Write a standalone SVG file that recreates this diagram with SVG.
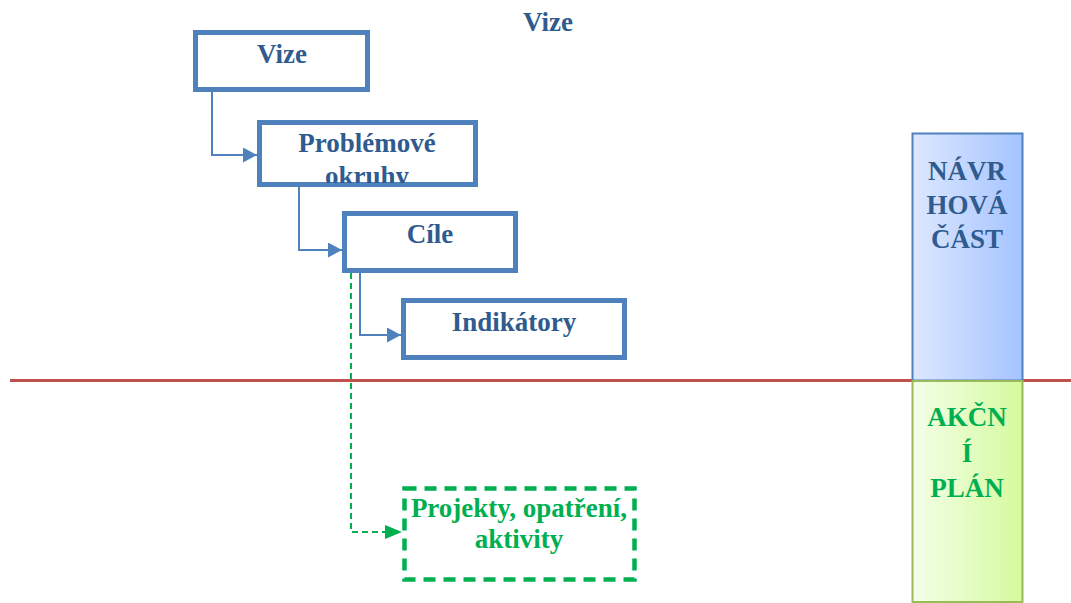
<svg xmlns="http://www.w3.org/2000/svg" width="1071" height="603" viewBox="0 0 1071 603">
<defs>
<style>
.box{fill:#fff;stroke:#4F81BD;stroke-width:5}
.t{font-family:"Liberation Serif","Times New Roman",serif;font-weight:bold;font-size:27px;text-anchor:middle}
.blue{fill:#2F5B8F}
.green{fill:#00B050}
.conn{fill:none;stroke:#4F81BD;stroke-width:2}
.gconn{fill:none;stroke:#00B050;stroke-width:2;stroke-dasharray:6 4}
</style>
<linearGradient id="gb" x1="0" y1="0" x2="1" y2="0"><stop offset="0" stop-color="#DDE8FF"/><stop offset="1" stop-color="#A5C3FF"/></linearGradient>
<linearGradient id="gg" x1="0" y1="0" x2="1" y2="0"><stop offset="0" stop-color="#F3FFE8"/><stop offset="1" stop-color="#D5FA9E"/></linearGradient>
<marker id="ab" markerWidth="14" markerHeight="15" refX="14" refY="7.5" orient="auto" markerUnits="userSpaceOnUse"><path d="M0,0 L14,7.5 L0,15 Z" fill="#4F81BD"/></marker>
<marker id="ag" markerWidth="17" markerHeight="14" refX="17" refY="7" orient="auto" markerUnits="userSpaceOnUse"><path d="M0,0 L17,7 L0,14 Z" fill="#00B050"/></marker>
<clipPath id="cp"><rect x="260" y="123" width="215" height="60"/></clipPath>
</defs>
<text class="t blue" x="548" y="31">Vize</text>
<line x1="10" y1="380.5" x2="1071" y2="380.5" stroke="#C0504D" stroke-width="3"/>
<g id="connectors">
<path class="conn" d="M212,92 V155 H257" marker-end="url(#ab)"/>
<path class="conn" d="M299,187 V250 H342" marker-end="url(#ab)"/>
<path class="conn" d="M360,273 V335 H401" marker-end="url(#ab)"/>
<path class="gconn" d="M351,273 V532 H402" marker-end="url(#ag)"/>
</g>
<g id="vize"><rect class="box" x="195.5" y="32.5" width="172" height="57"/><text class="t blue" x="282" y="63">Vize</text></g>
<g id="problemove"><rect class="box" x="259.5" y="122.5" width="216" height="62"/><g clip-path="url(#cp)"><text class="t blue" x="367" y="152">Problémové</text><text class="t blue" x="367" y="185">okruhy</text></g></g>
<g id="cile"><rect class="box" x="344.5" y="213.5" width="171" height="57"/><text class="t blue" x="430" y="243">Cíle</text></g>
<g id="indikatory"><rect class="box" x="403.5" y="300.5" width="221" height="57"/><text class="t blue" x="514" y="331">Indikátory</text></g>
<g id="projekty"><rect x="404.5" y="488.5" width="230" height="91" fill="#fff" stroke="#00B050" stroke-width="4.5" stroke-dasharray="12 8"/><text class="t green" x="519" y="517">Projekty, opatření,</text><text class="t green" x="519" y="548">aktivity</text></g>
<g id="navrhova"><rect x="912.5" y="133.5" width="110" height="247" fill="url(#gb)" stroke="#4F81BD" stroke-width="2"/><text class="t blue" x="967" y="180">NÁVR</text><text class="t blue" x="967" y="214">HOVÁ</text><text class="t blue" x="967" y="248">ČÁST</text></g>
<g id="akcni"><rect x="912.5" y="381" width="110" height="221" fill="url(#gg)" stroke="#9BBB59" stroke-width="2"/><text class="t green" x="967" y="426">AKČN</text><text class="t green" x="967" y="462">Í</text><text class="t green" x="967" y="497">PLÁN</text></g>
</svg>
